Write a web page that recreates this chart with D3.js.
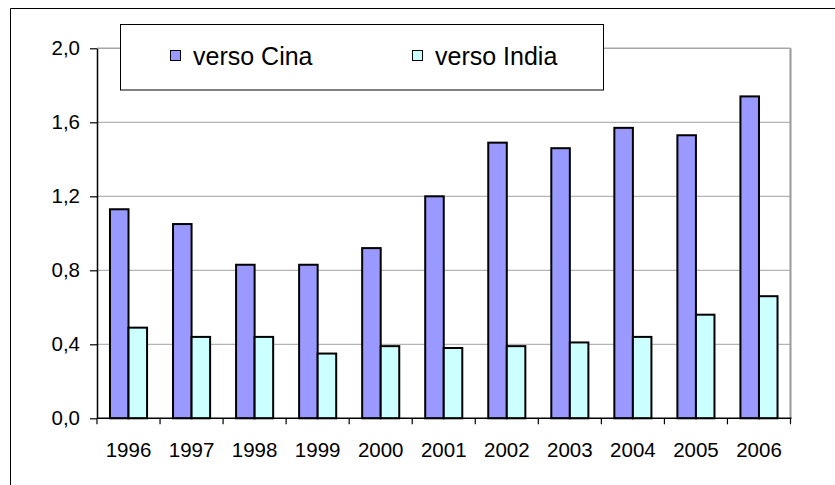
<!DOCTYPE html>
<html>
<head>
<meta charset="utf-8">
<script src="https://cdn.jsdelivr.net/npm/d3@7"></script>
<style>
  body { margin: 0; background: #fff; }
  svg { display: block; font-family: "Liberation Sans", Arial, sans-serif; }
</style>
</head>
<body>
<div id="chart"></div>
<script>
// data
var years = ["1996","1997","1998","1999","2000","2001","2002","2003","2004","2005","2006"];
var cina  = [1.13, 1.05, 0.83, 0.83, 0.92, 1.20, 1.49, 1.46, 1.57, 1.53, 1.74];
var india = [0.49, 0.44, 0.44, 0.35, 0.39, 0.38, 0.39, 0.41, 0.44, 0.56, 0.66];
var seriesNames = ["verso Cina", "verso India"];
var seriesColors = ["#9999FF", "#CCFFFF"];
var yTicks = [0, 0.4, 0.8, 1.2, 1.6, 2.0];

var w = 835, h = 485;
var pLeft = 97, pRight = 790.5, pTop = 48.3, pBottom = 418.3;

var it = d3.formatLocale({decimal: ",", thousands: ".", grouping: [3], currency: ["", "€"]});
var fmt = it.format(".1f");

var svg = d3.select("#chart")
  .append("svg")
  .attr("width", w)
  .attr("height", h);

// outer frame (runs off the page on right and bottom)
svg.append("path")
  .attr("d", "M10.5," + (h + 5) + "V8.5H" + (w + 5))
  .attr("fill", "none")
  .attr("stroke", "#000")
  .attr("stroke-width", 1);

var x0 = d3.scaleBand()
  .domain(years)
  .range([pLeft, pRight]);

var bw = x0.bandwidth();
var gap = bw * 1.4 / 3.4;
var x1 = d3.scaleBand()
  .domain(seriesNames)
  .range([gap / 2, bw - gap / 2]);

var y = d3.scaleLinear()
  .domain([0, 2])
  .range([pBottom, pTop]);

// gridlines
svg.append("g")
  .selectAll("line")
  .data(yTicks.slice(1, -1))
  .enter()
  .append("line")
  .attr("x1", pLeft)
  .attr("x2", pRight)
  .attr("y1", function(d){ return y(d); })
  .attr("y2", function(d){ return y(d); })
  .attr("stroke", "#b4b4b4")
  .attr("stroke-width", 1.2);

// plot area border top + right
svg.append("line")
  .attr("x1", pLeft).attr("x2", pRight)
  .attr("y1", y(2)).attr("y2", y(2))
  .attr("stroke", "#a8a8a8").attr("stroke-width", 1.5);
svg.append("line")
  .attr("x1", pRight).attr("x2", pRight)
  .attr("y1", y(2)).attr("y2", pBottom)
  .attr("stroke", "#999").attr("stroke-width", 2);

// bars
var rows = years.map(function(yr, i){ return {year: yr, vals: [cina[i], india[i]]}; });

var groups = svg.append("g")
  .selectAll("g")
  .data(rows)
  .enter()
  .append("g")
  .attr("transform", function(d){ return "translate(" + x0(d.year) + ",0)"; });

groups.selectAll("rect")
  .data(function(d){ return d.vals.map(function(v, k){ return {name: seriesNames[k], v: v, k: k}; }); })
  .enter()
  .append("rect")
  .attr("x", function(d){ return x1(d.name); })
  .attr("width", x1.bandwidth())
  .attr("y", function(d){ return y(d.v); })
  .attr("height", function(d){ return pBottom - y(d.v); })
  .attr("fill", function(d){ return seriesColors[d.k]; })
  .attr("stroke", "#000")
  .attr("stroke-width", 2);

// y axis
var yAxis = svg.append("g")
  .attr("transform", "translate(" + pLeft + ",0)")
  .call(d3.axisLeft(y).tickValues(yTicks).tickFormat(fmt).tickSize(7).tickSizeOuter(0).tickPadding(10));
yAxis.select(".domain").attr("stroke", "#000").attr("stroke-width", 1.5);
yAxis.selectAll(".tick line").attr("stroke", "#000").attr("stroke-width", 1.2);
yAxis.selectAll(".tick text")
  .attr("font-size", 20.5)
  .attr("font-family", "Liberation Sans, Arial, sans-serif")
  .attr("fill", "#000");

// x axis
var xAxis = svg.append("g")
  .attr("transform", "translate(0," + pBottom + ")");
xAxis.append("line")
  .attr("x1", pLeft).attr("x2", pRight + 1)
  .attr("stroke", "#000").attr("stroke-width", 1.5);
xAxis.selectAll("line.tk")
  .data(years.concat(["end"]))
  .enter()
  .append("line")
  .attr("class", "tk")
  .attr("x1", function(d, i){ return i < years.length ? x0(d) : pRight; })
  .attr("x2", function(d, i){ return i < years.length ? x0(d) : pRight; })
  .attr("y1", 0).attr("y2", 6)
  .attr("stroke", "#000").attr("stroke-width", 1.2);
xAxis.selectAll("text")
  .data(years)
  .enter()
  .append("text")
  .attr("x", function(d){ return x0(d) + bw / 2; })
  .attr("y", 39)
  .attr("text-anchor", "middle")
  .attr("font-size", 20.5)
  .text(function(d){ return d; });

// legend
var lg = svg.append("g");
lg.append("rect")
  .attr("x", 120.5).attr("y", 24.5)
  .attr("width", 483).attr("height", 65.5)
  .attr("fill", "#fff")
  .attr("stroke", "#000").attr("stroke-width", 1);

var legX = [170, 412];
var items = lg.selectAll("g")
  .data(seriesNames)
  .enter()
  .append("g")
  .attr("transform", function(d, i){ return "translate(" + legX[i] + ",0)"; });
items.append("rect")
  .attr("x", 0.5).attr("y", 50.5)
  .attr("width", 10).attr("height", 10)
  .attr("fill", function(d, i){ return seriesColors[i]; })
  .attr("stroke", "#000").attr("stroke-width", 1);
items.append("text")
  .attr("x", 23)
  .attr("y", 65)
  .attr("font-size", 25)
  .attr("fill", "#000")
  .text(function(d){ return d; });
</script>
</body>
</html>
